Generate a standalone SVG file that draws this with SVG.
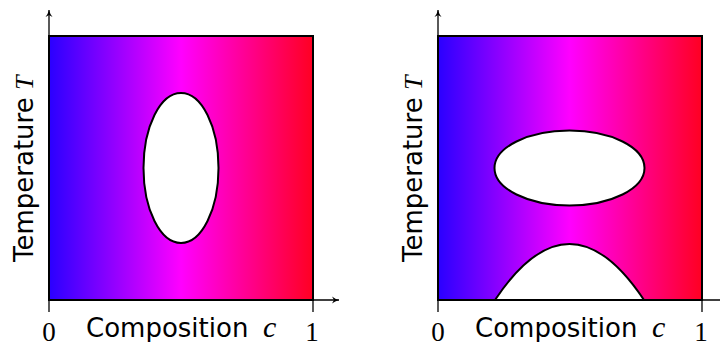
<svg xmlns="http://www.w3.org/2000/svg" width="720" height="342" viewBox="0 0 720 342">
<style>
.frame{stroke:#000;stroke-width:2;}
.axis{stroke:#000;stroke-width:1.3;fill:none;}
.hole{fill:#fff;stroke:#000;stroke-width:2;}
.lbl{font-family:"DejaVu Sans",sans-serif;font-size:26px;fill:#000;}
.var{font-family:"Liberation Serif",serif;font-style:italic;font-size:26px;fill:#000;}
.cvar{font-size:30px;}
.num{font-family:"Liberation Serif","DejaVu Serif",serif;font-size:27px;fill:#000;text-anchor:middle;}
</style>
<defs>
<linearGradient id="grad" x1="0" y1="0" x2="1" y2="0">
<stop offset="0" stop-color="#2a00ff"/>
<stop offset="0.5" stop-color="#ff00ff"/>
<stop offset="1" stop-color="#ff0022"/>
</linearGradient>
<marker id="arr" markerWidth="10" markerHeight="10" refX="8" refY="5" orient="auto" markerUnits="userSpaceOnUse">
<path d="M1,1.5 Q4,4 8,5 Q4,6 1,8.5 L3,5 Z" fill="#000"/>
</marker>
</defs>
<g id="left-panel">
<rect class="frame" x="49" y="36" width="264" height="264" fill="url(#grad)"/>
<ellipse id="left-hole" class="hole" cx="181" cy="168" rx="37.5" ry="75"/>
</g>
<g id="right-panel">
<rect class="frame" x="438" y="36" width="264" height="264" fill="url(#grad)"/>
<ellipse id="right-hole" class="hole" cx="569.5" cy="168" rx="75" ry="37.5"/>
<path id="right-dome" class="hole" d="M495,300 Q569.5,188 644,300 Z"/>
</g>
<g id="connectors">
<line class="axis" x1="49" y1="312" x2="49" y2="10" marker-end="url(#arr)"/>
<line class="axis" x1="49" y1="300" x2="339" y2="300" marker-end="url(#arr)"/>
<line class="axis" x1="313" y1="300" x2="313" y2="312"/>
<line class="axis" x1="438" y1="312" x2="438" y2="10" marker-end="url(#arr)"/>
<line class="axis" x1="438" y1="300" x2="728" y2="300" marker-end="url(#arr)"/>
<line class="axis" x1="702" y1="300" x2="702" y2="312"/>
</g>
<g id="labels-left">
<text class="num" x="49" y="341">0</text>
<text class="num" x="312" y="341">1</text>
<text class="lbl" x="86" y="337">Composition</text>
<text class="var cvar" x="263" y="337">c</text>
<text class="lbl" transform="translate(33,262) rotate(-90)">Temperature</text>
<text class="var" transform="translate(33,90) rotate(-90)">T</text>
</g>
<g id="labels-right">
<text class="num" x="438" y="341">0</text>
<text class="num" x="701" y="341">1</text>
<text class="lbl" x="475" y="337">Composition</text>
<text class="var cvar" x="652" y="337">c</text>
<text class="lbl" transform="translate(422,262) rotate(-90)">Temperature</text>
<text class="var" transform="translate(422,90) rotate(-90)">T</text>
</g>
</svg>
